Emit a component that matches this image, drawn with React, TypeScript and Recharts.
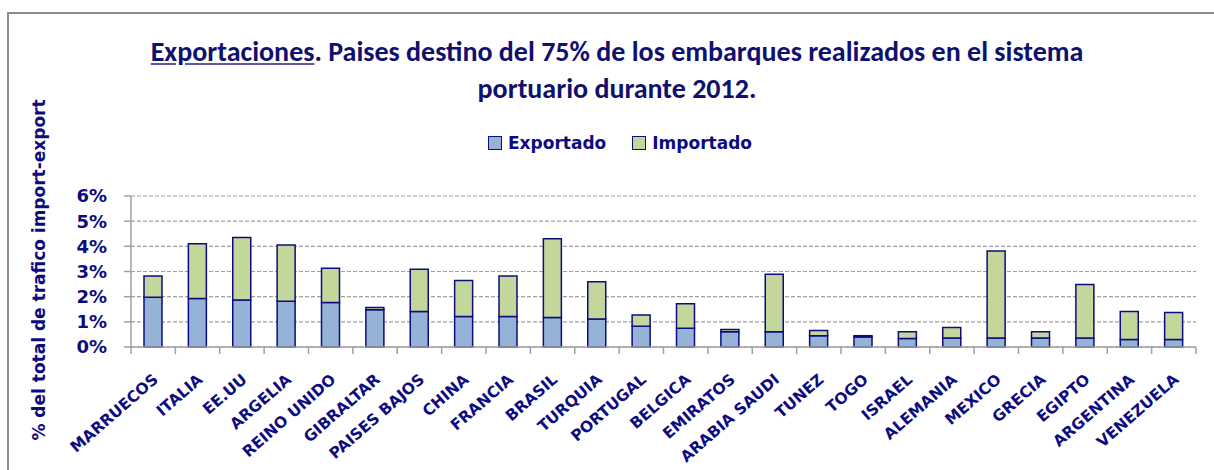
import React from 'react';
import { BarChart, Bar, XAxis, YAxis, CartesianGrid } from 'recharts';

const categories = [
  'MARRUECOS', 'ITALIA', 'EE.UU', 'ARGELIA', 'REINO UNIDO', 'GIBRALTAR', 'PAISES BAJOS', 'CHINA',
  'FRANCIA', 'BRASIL', 'TURQUIA', 'PORTUGAL', 'BELGICA', 'EMIRATOS', 'ARABIA SAUDI', 'TUNEZ',
  'TOGO', 'ISRAEL', 'ALEMANIA', 'MEXICO', 'GRECIA', 'EGIPTO', 'ARGENTINA', 'VENEZUELA',
];

// % del total, segmento exportado (abajo) e importado (arriba)
const exportado = [
  1.98, 1.93, 1.87, 1.82, 1.77, 1.48, 1.41, 1.21,
  1.21, 1.17, 1.11, 0.82, 0.75, 0.61, 0.61, 0.45,
  0.40, 0.34, 0.36, 0.36, 0.36, 0.36, 0.30, 0.30,
];
const importado = [
  0.84, 2.17, 2.48, 2.23, 1.36, 0.09, 1.68, 1.43,
  1.61, 3.13, 1.48, 0.45, 0.97, 0.09, 2.28, 0.21,
  0.05, 0.27, 0.41, 3.45, 0.25, 2.12, 1.11, 1.07,
];
const yTicks = [0, 1, 2, 3, 4, 5, 6];

const data = categories.map((pais, i) => ({
  pais,
  exportado: exportado[i],
  importado: importado[i],
}));

const NAVY = '#0c0c80';
const TITLE_FONT = 'Carlito, "Liberation Sans Narrow", "Open Sans", sans-serif';
const FONT = '"DejaVu Sans", Verdana, sans-serif';
const PLOT_LEFT = 131;
const PLOT_RIGHT = 1196;
const BAND = (PLOT_RIGHT - PLOT_LEFT) / categories.length;

const CountryTick = (props: any) => {
  const { x, y, payload, index } = props;
  const isLast = index === categories.length - 1;
  return (
    <g>
      <line x1={x - BAND / 2} x2={x - BAND / 2} y1={y} y2={y + 7} stroke="#a0a0a0" strokeWidth={1.5} />
      {isLast && <line x1={x + BAND / 2} x2={x + BAND / 2} y1={y} y2={y + 7} stroke="#a0a0a0" strokeWidth={1.5} />}
      <text
        transform={`translate(${x + 6},${y + 34}) rotate(-41)`}
        textAnchor="end"
        fill={NAVY}
        fontSize={15.5}
        fontWeight="bold"
        fontFamily={FONT}
      >
        {payload.value}
      </text>
    </g>
  );
};

const LegendBox = () => (
  <div style={{ display: 'flex', justifyContent: 'center', gap: 26, fontFamily: FONT, fontWeight: 'bold', fontSize: 17, color: NAVY }}>
    <span style={{ display: 'flex', alignItems: 'center' }}>
      <span style={{ width: 12, height: 12, background: '#95b3d7', border: `1.5px solid ${NAVY}`, marginRight: 6 }} />
      Exportado
    </span>
    <span style={{ display: 'flex', alignItems: 'center' }}>
      <span style={{ width: 12, height: 12, background: '#c4d79b', border: `1.5px solid ${NAVY}`, marginRight: 6 }} />
      Importado
    </span>
  </div>
);

export default function App() {
  return (
    <div style={{ position: 'absolute', left: 0, top: 0, width: 1214, height: 470, overflow: 'hidden', background: '#fff' }}>
      <div style={{ position: 'absolute', left: 7, top: 12, width: 1260, height: 520, border: '2px solid #8c8c8c' }} />
      <div
        style={{
          position: 'absolute', left: 0, top: 33, width: 1234, textAlign: 'center',
          fontFamily: TITLE_FONT, fontWeight: 'bold', fontSize: 28, lineHeight: '37px', color: '#10106e',
        }}
      >
        <span style={{ textDecoration: 'underline', textDecorationColor: '#5a5aa8' }}>Exportaciones</span>
        . Paises destino del 75% de los embarques realizados en el sistema
        <br />
        portuario durante 2012.
      </div>
      <div style={{ position: 'absolute', left: 0, top: 133, width: 1240 }}>
        <LegendBox />
      </div>
      <div style={{ position: 'absolute', left: 39, top: 270, width: 0, height: 0 }}>
        <div
          style={{
            position: 'absolute', transform: 'translate(-50%, -50%) rotate(-90deg)', whiteSpace: 'nowrap',
            fontFamily: FONT, fontWeight: 'bold', fontSize: 17, color: NAVY,
          }}
        >
          % del total de trafico import-export
        </div>
      </div>
      <BarChart
        width={1214}
        height={470}
        data={data}
        margin={{ top: 196, right: 1214 - PLOT_RIGHT, bottom: 13, left: PLOT_LEFT - 60 }}
        barSize={18}
        style={{ position: 'absolute', left: 0, top: 0 }}
      >
        <CartesianGrid vertical={false} stroke="#a0a0a0" strokeDasharray="4 2" strokeWidth={1.2} />
        <XAxis
          dataKey="pais"
          interval={0}
          height={110}
          tickSize={0}
          tickMargin={0}
          tick={<CountryTick />}
          axisLine={{ stroke: '#a0a0a0', strokeWidth: 1.5 }}
        />
        <YAxis
          width={60}
          domain={[0, 6]}
          ticks={yTicks}
          interval={0}
          tickFormatter={(v: number) => `${v}%`}
          tickSize={7}
          tickMargin={17}
          tickLine={{ stroke: '#a0a0a0', strokeWidth: 1.5 }}
          axisLine={{ stroke: '#a0a0a0', strokeWidth: 1.5 }}
          tick={{ fill: NAVY, fontSize: 18, fontWeight: 'bold', fontFamily: FONT }}
        />
        <Bar dataKey="exportado" name="Exportado" stackId="a" fill="#95b3d7" stroke={NAVY} strokeWidth={1.5} isAnimationActive={false} />
        <Bar dataKey="importado" name="Importado" stackId="a" fill="#c4d79b" stroke={NAVY} strokeWidth={1.5} isAnimationActive={false} />
      </BarChart>
    </div>
  );
}
